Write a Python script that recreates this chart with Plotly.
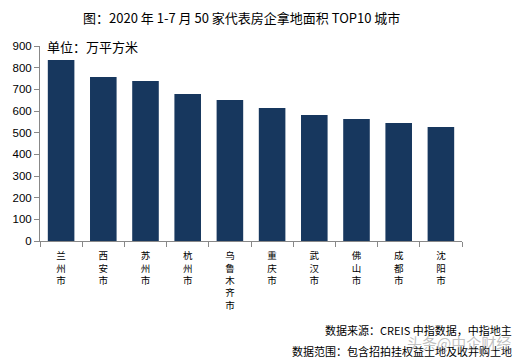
import plotly.graph_objects as go

cities = ["兰州市", "西安市", "苏州市", "杭州市", "乌鲁木齐市", "重庆市", "武汉市", "佛山市", "成都市", "沈阳市"]
areas = [835, 757, 738, 679, 651, 614, 582, 563, 545, 526]
y_ticks = [0, 100, 200, 300, 400, 500, 600, 700, 800, 900]

title_text = "图：2020 年 1-7 月 50 家代表房企拿地面积 TOP10 城市"
unit_text = "单位：万平方米"
source_text = "数据来源：CREIS 中指数据，中指地主"
scope_text = "数据范围：包含招拍挂权益土地及收并购土地"
watermark_text = "头条@中企财经"

labels = ["<br>".join(list(c)) for c in cities]

font_cjk = "Noto Sans CJK SC, Noto Sans, sans-serif"

# page body has an 8px default margin, so the figure is sized to fit the window
W, H = 516, 352
L, R, T, B = 32, 62, 38, 119
PW, PH = W - L - R, H - T - B


def px(x):
    return (x - L) / PW


def py(y):
    return (H - B - y) / PH


fig = go.Figure(go.Bar(
    x=labels, y=areas,
    marker=dict(color="#17375E", line=dict(width=0)),
    width=0.63,
))

fig.update_layout(
    width=W, height=H,
    margin=dict(l=L, r=R, t=T, b=B, autoexpand=False),
    paper_bgcolor="white", plot_bgcolor="white",
    showlegend=False,
    font=dict(family=font_cjk, size=11, color="#000"),
    xaxis=dict(
        showline=True, linecolor="#888", linewidth=1,
        ticks="outside", tickson="boundaries", ticklen=5, tickcolor="#888",
        tickfont=dict(size=9.5, family=font_cjk),
        ticklabelstandoff=6,
        showgrid=False,
    ),
    yaxis=dict(
        range=[0, 900], tickvals=y_ticks,
        showline=True, linecolor="#888", linewidth=1,
        ticks="outside", ticklen=5, tickcolor="#888",
        tickfont=dict(size=11.5, family="Liberation Sans, Arial, sans-serif"),
        showgrid=False, zeroline=False,
    ),
    annotations=[
        dict(text=title_text, xref="paper", yref="paper", x=px(233), y=py(9),
             xanchor="center", yanchor="middle", showarrow=False,
             font=dict(size=13, family=font_cjk)),
        dict(text=unit_text, xref="paper", yref="paper", x=px(37), y=py(38),
             xanchor="left", yanchor="middle", showarrow=False,
             font=dict(size=13, family=font_cjk)),
        dict(text=source_text, xref="paper", yref="paper", x=px(506), y=py(322),
             xanchor="right", yanchor="middle", showarrow=False,
             font=dict(size=11, family=font_cjk)),
        dict(text=scope_text, xref="paper", yref="paper", x=px(506), y=py(343),
             xanchor="right", yanchor="middle", showarrow=False,
             font=dict(size=11, family=font_cjk)),
        dict(text=watermark_text, xref="paper", yref="paper", x=px(505), y=py(334),
             xanchor="right", yanchor="middle", showarrow=False,
             font=dict(size=15, family=font_cjk, color="rgba(140,140,140,0.55)")),
    ],
)

fig.write_html("out.html")
